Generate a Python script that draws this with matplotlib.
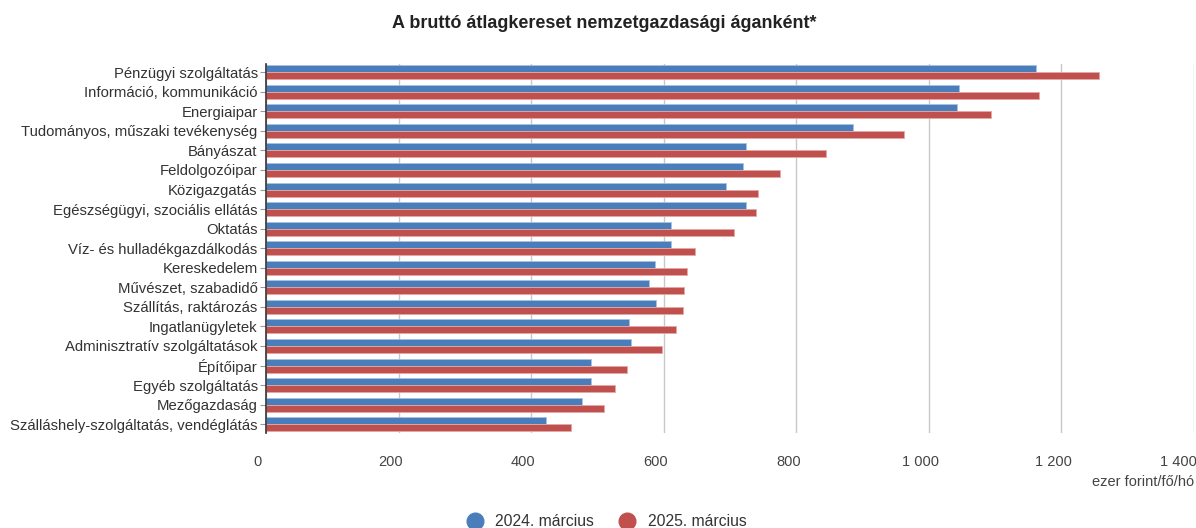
import matplotlib
matplotlib.use("Agg")
import matplotlib.pyplot as plt
import matplotlib.transforms as mtransforms
from matplotlib.lines import Line2D
from matplotlib.ticker import FuncFormatter
import numpy as np

plt.rcParams["font.family"] = ["Liberation Sans", "DejaVu Sans"]

categories = [
    "Pénzügyi szolgáltatás",
    "Információ, kommunikáció",
    "Energiaipar",
    "Tudományos, műszaki tevékenység",
    "Bányászat",
    "Feldolgozóipar",
    "Közigazgatás",
    "Egészségügyi, szociális ellátás",
    "Oktatás",
    "Víz- és hulladékgazdálkodás",
    "Kereskedelem",
    "Művészet, szabadidő",
    "Szállítás, raktározás",
    "Ingatlanügyletek",
    "Adminisztratív szolgáltatások",
    "Építőipar",
    "Egyéb szolgáltatás",
    "Mezőgazdaság",
    "Szálláshely-szolgáltatás, vendéglátás",
]
values_2024 = [1162, 1045, 1043, 885, 724, 720, 694, 724, 611, 611,
               587, 578, 589, 548, 550, 490, 491, 476, 423]
values_2025 = [1257, 1166, 1094, 962, 845, 776, 742, 740, 706, 647,
               635, 631, 629, 619, 597, 544, 526, 510, 460]
series_labels = ["2024. március", "2025. március"]
colors = ["#4a7ebb", "#c0504d"]
edge_colors = ["#a9c1e0", "#e3a9a7"]

fig = plt.figure(figsize=(11.96, 5.28), dpi=100)
ax = fig.add_axes([0.2224, 0.1799, 0.7759, 0.6989])

y = np.arange(len(categories))
h = 0.36
ax.barh(y - h / 2, values_2024, height=h, color=colors[0],
        edgecolor=edge_colors[0], linewidth=0.6, zorder=3)
ax.barh(y + h / 2, values_2025, height=h, color=colors[1],
        edgecolor=edge_colors[1], linewidth=0.6, zorder=3)

ax.set_xlim(0, 1400)
ax.set_ylim(18.45, -0.42)
ax.set_xticks(range(0, 1401, 200))
ax.xaxis.set_major_formatter(FuncFormatter(lambda v, p: f"{int(v):,}".replace(",", " ")))
ax.set_yticks(y)
ax.set_yticklabels(categories)

ax.grid(axis="x", color="#c8c8c8", linewidth=1.0, zorder=0)
for side in ["top", "right", "bottom"]:
    ax.spines[side].set_visible(False)
ax.spines["left"].set_color("#333333")
ax.spines["left"].set_linewidth(1.2)
ax.spines["left"].set_zorder(4)

ax.tick_params(axis="y", length=4, width=0.8, color="#999999", pad=2,
               labelsize=10.7, labelcolor="#333333")
ax.tick_params(axis="x", length=0, pad=16, labelsize=10.5, labelcolor="#444444")
xlabels = ax.get_xticklabels()
for i, lbl in enumerate(xlabels):
    shift = -16 if i == len(xlabels) - 1 else -8
    lbl.set_transform(lbl.get_transform()
                      + mtransforms.ScaledTranslation(shift / 100, 0, fig.dpi_scale_trans))

fig.text(0.505, 0.956, "A bruttó átlagkereset nemzetgazdasági áganként*",
         ha="center", va="center", fontsize=13, fontweight="bold", color="#222222")
fig.text(0.9985, 0.087, "ezer forint/fő/hó", ha="right", va="center",
         fontsize=10.5, color="#444444")

handles = [Line2D([], [], marker="o", linestyle="none", markersize=12,
                  markerfacecolor=c, markeredgecolor=c) for c in colors]
fig.legend(handles, series_labels, loc="center", bbox_to_anchor=(0.504, 0.012),
           ncol=2, frameon=False, fontsize=11.3, handletextpad=0.3,
           columnspacing=1.1, labelcolor="#333333")

fig.savefig("out.png", dpi=100)
